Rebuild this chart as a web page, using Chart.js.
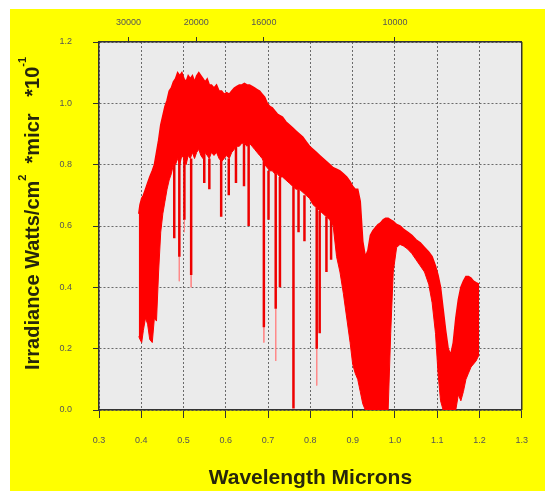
<!DOCTYPE html>
<html>
<head>
<meta charset="utf-8">
<script src="https://cdn.jsdelivr.net/npm/chart.js@4"></script>
<style>
	body { margin: 0; background: #ffffff; }
	#box { position: absolute; left: 10px; top: 9px; width: 535px; height: 482px; background: #ffff00; }
</style>
</head>
<body>
<div id="box"><canvas id="myChart"></canvas></div>
<script>
// wavelength in microns, band top and band bottom (irradiance *10^-1)
const wl = [0.394, 0.397, 0.401, 0.405, 0.410, 0.415, 0.420, 0.426, 0.431, 0.436, 0.441, 0.446, 0.451, 0.456, 0.461, 0.466, 0.471, 0.476, 0.481, 0.486, 0.491, 0.496, 0.501, 0.506, 0.511, 0.516, 0.521, 0.526, 0.531, 0.536, 0.541, 0.546, 0.551, 0.556, 0.561, 0.566, 0.572, 0.578, 0.584, 0.590, 0.596, 0.602, 0.608, 0.614, 0.620, 0.626, 0.632, 0.638, 0.644, 0.650, 0.656, 0.662, 0.668, 0.674, 0.680, 0.686, 0.692, 0.698, 0.704, 0.710, 0.716, 0.722, 0.728, 0.734, 0.742, 0.750, 0.758, 0.766, 0.774, 0.782, 0.790, 0.798, 0.806, 0.814, 0.822, 0.830, 0.838, 0.846, 0.854, 0.862, 0.870, 0.878, 0.886, 0.894, 0.900, 0.906, 0.912, 0.918, 0.924, 0.930, 0.936, 0.942, 0.948, 0.954, 0.960, 0.966, 0.972, 0.978, 0.984, 0.990, 0.996, 1.004, 1.012, 1.020, 1.030, 1.040, 1.050, 1.060, 1.070, 1.080, 1.088, 1.096, 1.102, 1.108, 1.114, 1.120, 1.126, 1.132, 1.138, 1.144, 1.150, 1.156, 1.162, 1.168, 1.174, 1.180, 1.186, 1.192, 1.199];
const bandTop = [0.64, 0.67, 0.69, 0.70, 0.72, 0.74, 0.76, 0.78, 0.80, 0.84, 0.88, 0.93, 0.96, 0.99, 1.01, 1.04, 1.05, 1.07, 1.08, 1.10, 1.09, 1.10, 1.08, 1.07, 1.09, 1.08, 1.09, 1.07, 1.09, 1.10, 1.09, 1.08, 1.07, 1.08, 1.06, 1.06, 1.05, 1.06, 1.04, 1.04, 1.03, 1.035, 1.03, 1.04, 1.05, 1.055, 1.06, 1.06, 1.065, 1.06, 1.06, 1.055, 1.05, 1.045, 1.04, 1.03, 1.02, 1.00, 0.99, 0.985, 0.975, 0.965, 0.96, 0.955, 0.94, 0.93, 0.92, 0.91, 0.90, 0.89, 0.875, 0.86, 0.85, 0.84, 0.83, 0.82, 0.81, 0.80, 0.79, 0.785, 0.78, 0.77, 0.76, 0.745, 0.73, 0.72, 0.72, 0.68, 0.55, 0.50, 0.52, 0.57, 0.585, 0.595, 0.605, 0.61, 0.62, 0.625, 0.625, 0.62, 0.615, 0.605, 0.60, 0.59, 0.58, 0.57, 0.555, 0.545, 0.53, 0.515, 0.50, 0.47, 0.44, 0.40, 0.33, 0.26, 0.20, 0.18, 0.22, 0.30, 0.36, 0.40, 0.42, 0.435, 0.435, 0.43, 0.42, 0.415, 0.41];
const bandBottom = [0.24, 0.23, 0.22, 0.26, 0.30, 0.28, 0.23, 0.22, 0.30, 0.29, 0.45, 0.58, 0.64, 0.68, 0.72, 0.75, 0.77, 0.80, 0.80, 0.82, 0.80, 0.83, 0.82, 0.80, 0.83, 0.82, 0.84, 0.82, 0.84, 0.85, 0.83, 0.82, 0.84, 0.83, 0.82, 0.84, 0.83, 0.84, 0.82, 0.81, 0.82, 0.83, 0.82, 0.84, 0.85, 0.86, 0.86, 0.87, 0.87, 0.86, 0.87, 0.86, 0.85, 0.84, 0.83, 0.82, 0.80, 0.79, 0.78, 0.78, 0.77, 0.77, 0.76, 0.76, 0.75, 0.74, 0.73, 0.72, 0.72, 0.71, 0.70, 0.69, 0.67, 0.66, 0.65, 0.64, 0.63, 0.62, 0.60, 0.50, 0.45, 0.38, 0.30, 0.22, 0.15, 0.12, 0.10, 0.06, 0.02, 0, 0, 0, 0, 0, 0, 0, 0, 0, 0, 0.25, 0.45, 0.53, 0.54, 0.535, 0.525, 0.51, 0.49, 0.47, 0.45, 0.41, 0.35, 0.25, 0.12, 0.03, 0, 0, 0, 0, 0, 0, 0.05, 0.03, 0.06, 0.10, 0.12, 0.14, 0.15, 0.16, 0.18];

// absorption lines: wavelength, band level, lowest value
const lineWl = [0.478, 0.490, 0.502, 0.518, 0.549, 0.561, 0.589, 0.607, 0.624, 0.643, 0.654, 0.690, 0.701, 0.718, 0.728, 0.760, 0.772, 0.786, 0.815, 0.822, 0.838, 0.849, 0.866];
const lineHigh = [0.80, 0.82, 0.82, 0.82, 0.84, 0.82, 0.82, 0.82, 0.86, 0.87, 0.87, 0.81, 0.78, 0.77, 0.76, 0.73, 0.72, 0.70, 0.66, 0.65, 0.63, 0.62, 0.58];
const lineLow = [0.56, 0.50, 0.62, 0.44, 0.74, 0.72, 0.63, 0.70, 0.74, 0.73, 0.60, 0.27, 0.62, 0.33, 0.40, 0.005, 0.58, 0.55, 0.20, 0.25, 0.45, 0.49, 0.52];
// faint tails of the strongest lines
const tailWl = [0.490, 0.502, 0.518, 0.690, 0.718, 0.815];
const tailHigh = [0.50, 0.62, 0.44, 0.27, 0.33, 0.20];
const tailLow = [0.42, 0.58, 0.40, 0.22, 0.16, 0.08];

// wavenumber labels along the top (cm-1)
const topPos = [0.37, 0.53, 0.69, 1.0];
const topLabels = ["30000", "20000", "16000", "10000"];

const textDark = "#26260c";
const tickGray = "#555555";

function segments(xs, hi, lo) {
	let out = [];
	xs.forEach((x, i) => {
		out.push({ x: x, y: hi[i] });
		out.push({ x: x, y: lo[i] });
		out.push({ x: x, y: null });
	});
	return out;
}

const plotBack = {
	id: "plotBack",
	beforeDraw(chart) {
		const { ctx, chartArea } = chart;
		ctx.save();
		ctx.fillStyle = "#ebebeb";
		ctx.fillRect(chartArea.left, chartArea.top, chartArea.right - chartArea.left, chartArea.bottom - chartArea.top);
		ctx.restore();
	},
	afterDraw(chart) {
		const { ctx, chartArea } = chart;
		ctx.save();
		// right frame line
		ctx.strokeStyle = "#333333";
		ctx.lineWidth = 1.5;
		ctx.beginPath();
		ctx.moveTo(chartArea.right, chartArea.top);
		ctx.lineTo(chartArea.right, chartArea.bottom);
		ctx.stroke();
		// y title with superscripts
		ctx.translate(23, 361);
		ctx.rotate(-Math.PI / 2);
		ctx.fillStyle = textDark;
		ctx.textBaseline = "middle";
		ctx.textAlign = "left";
		const parts = [
			["Irradiance Watts/cm", false],
			["2", true],
			["  *micr   *10", false],
			["-1", true],
		];
		let x = 0;
		parts.forEach((p) => {
			ctx.font = p[1] ? "bold 11px 'Liberation Sans', Arial" : "bold 20px 'Liberation Sans', Arial";
			ctx.fillText(p[0], x, p[1] ? -10 : 0);
			x += ctx.measureText(p[0]).width;
		});
		ctx.restore();
	},
};

var ctx = document.getElementById("myChart");
var myChart = new Chart(ctx, {
	type: "line",
	data: {
		datasets: [
			{
				label: "bottom",
				data: wl.map((x, i) => ({ x: x, y: bandBottom[i] })),
				borderColor: "#ff0000",
				borderWidth: 1,
				pointRadius: 0,
				fill: false,
			},
			{
				label: "top",
				data: wl.map((x, i) => ({ x: x, y: bandTop[i] })),
				borderColor: "#ff0000",
				borderWidth: 1.5,
				pointRadius: 0,
				backgroundColor: "#ff0000",
				fill: "-1",
			},
			{
				label: "lines",
				data: segments(lineWl, lineHigh, lineLow),
				borderColor: "#ee0000",
				borderWidth: 2.5,
				pointRadius: 0,
				spanGaps: false,
				fill: false,
			},
			{
				label: "tails",
				data: segments(tailWl, tailHigh, tailLow),
				borderColor: "#ff8a8a",
				borderWidth: 1,
				pointRadius: 0,
				spanGaps: false,
				fill: false,
			},
		],
	},
	plugins: [plotBack],
	options: {
		responsive: true,
		maintainAspectRatio: false,
		animation: false,
		layout: { padding: { left: 0, right: 22, top: 0, bottom: 0 } },
		elements: { line: { tension: 0 } },
		plugins: {
			legend: { display: false },
			tooltip: { enabled: false },
		},
		scales: {
			x: {
				type: "linear",
				position: "bottom",
				min: 0.3,
				max: 1.3,
				afterFit: (s) => { s.height = 81; },
				ticks: {
					stepSize: 0.1,
					padding: 17,
					color: tickGray,
					font: { size: 9, family: "'Liberation Sans', Arial" },
					callback: (v) => Number(v).toFixed(1),
				},
				grid: {
					color: "#6a6a6a",
					tickLength: 8,
					tickColor: "#333333",
					tickBorderDash: [],
				},
				// in v4 border.dash sets the dotted grid lines
				border: { display: true, color: "#333333", width: 1.5, dash: [2, 2] },
				title: {
					display: true,
					text: "Wavelength Microns",
					color: textDark,
					font: { size: 21, weight: "bold", family: "'Liberation Sans', Arial" },
					padding: { top: 0, bottom: 0 },
				},
			},
			x2: {
				type: "linear",
				position: "top",
				min: 0.3,
				max: 1.3,
				afterFit: (s) => { s.height = 33; },
				afterBuildTicks: (axis) => {
					axis.ticks = topPos.map((v) => ({ value: v }));
				},
				ticks: {
					autoSkip: false,
					padding: 9,
					color: tickGray,
					font: { size: 9, family: "'Liberation Sans', Arial" },
					callback: (v) => topLabels[topPos.indexOf(v)],
				},
				grid: {
					drawOnChartArea: false,
					tickLength: 5,
					tickColor: "#333333",
				},
				border: { display: true, color: "#333333", width: 1.5 },
			},
			y: {
				min: 0,
				max: 1.2,
				afterFit: (s) => { s.width = 89; },
				ticks: {
					stepSize: 0.2,
					padding: 21,
					color: tickGray,
					font: { size: 9, family: "'Liberation Sans', Arial" },
					callback: (v) => Number(v).toFixed(1),
				},
				grid: {
					color: "#6a6a6a",
					tickLength: 6,
					tickColor: "#333333",
					tickBorderDash: [],
				},
				border: { display: true, color: "#333333", width: 1.5, dash: [2, 2] },
			},
		},
	},
});
</script>
</body>
</html>
